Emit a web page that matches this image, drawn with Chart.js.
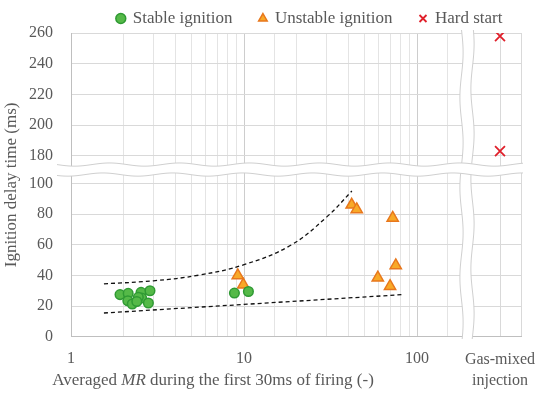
<!DOCTYPE html>
<html>
<head>
<meta charset="utf-8">
<script src="https://cdn.jsdelivr.net/npm/chart.js@4"></script>
<style>
html, body { margin: 0; padding: 0; background: #fff; }
#wrap { width: 550px; height: 396px; }
</style>
</head>
<body>
<div id="wrap"><canvas id="chart-area"></canvas></div>
<script>
// values
const stableMR    = [1.92, 2.14, 2.13, 2.26, 2.54, 2.56, 2.86, 2.80, 2.45, 2.40, 8.8, 10.6];
const stableDelay = [27.5, 28.3, 23.5, 21.4, 29.0, 25.3, 30.0, 22.0, 25.7, 23.0, 28.5, 29.5];
const unstableMR    = [9.2, 9.9, 41.9, 44.8, 72.3, 75.3, 59.3, 69.8];
const unstableDelay = [40, 34, 86, 83, 77.5, 46.5, 38.5, 33];
const hardDelay = [258, 183];
const gasLabels = ['', 'Gas-mixed injection', ''];
const upperMR    = [1.55, 3, 5.5, 10, 18.5, 30, 42];
const upperDelay = [34.5, 36.5, 40.2, 47, 59.5, 78, 95];
const lowerMR    = [1.55, 83];
const lowerDelay = [15.5, 27.5];
const xTickLabels = [1, 10, 100];

const textColor = '#595959';
Chart.defaults.font.family = '"Liberation Serif", serif';
Chart.defaults.font.size = 16;
Chart.defaults.color = textColor;

function pts(xs, ys) {
    return xs.map((x, i) => ({x: x, y: ys[i]}));
}

function wavePts(horiz, a, b, c, amp, period, phase) {
    const p = [];
    for (let t = a; t <= b; t += 1) {
        const d = c + amp * Math.sin((t - a) / period * 2 * Math.PI + phase);
        p.push(horiz ? [t, d] : [d, t]);
    }
    return p;
}

function drawBand(ctx, horiz, a, b, c, half) {
    const w1 = wavePts(horiz, a, b, c - half, 1.6, horiz ? 70 : 90, 0);
    const w2 = wavePts(horiz, a, b, c + half, 1.6, horiz ? 70 : 90, 0.6);
    ctx.beginPath();
    w1.forEach((q, i) => i ? ctx.lineTo(q[0], q[1]) : ctx.moveTo(q[0], q[1]));
    w2.slice().reverse().forEach(q => ctx.lineTo(q[0], q[1]));
    ctx.closePath();
    ctx.fillStyle = '#ffffff';
    ctx.fill();
    ctx.strokeStyle = '#cfcfcf';
    ctx.lineWidth = 1;
    [w1, w2].forEach(w => {
        ctx.beginPath();
        w.forEach((q, i) => i ? ctx.lineTo(q[0], q[1]) : ctx.moveTo(q[0], q[1]));
        ctx.stroke();
    });
}

const breakMarks = {
    id: 'breakMarks',
    afterDraw(chart) {
        const ctx = chart.ctx;
        const area = chart.chartArea;
        const hy = chart.scales.y.top;
        const vx = chart.scales.x.right - 12;
        ctx.save();
        drawBand(ctx, false, area.top - 3, area.bottom + 3, vx, 5.5);
        drawBand(ctx, true, area.left - 14, area.right + 2, hy, 5);

        // axis titles
        ctx.fillStyle = textColor;
        ctx.textBaseline = 'middle';
        const parts = [['Averaged ', ''], ['MR', 'italic '], [' during the first 30ms of firing (-)', '']];
        let total = 0;
        parts.forEach(p => { ctx.font = p[1] + '17px "Liberation Serif"'; total += ctx.measureText(p[0]).width; });
        let px = 213 - total / 2;
        ctx.textAlign = 'left';
        parts.forEach(p => {
            ctx.font = p[1] + '17px "Liberation Serif"';
            ctx.fillText(p[0], px, 381);
            px += ctx.measureText(p[0]).width;
        });
        ctx.translate(12, (area.top + area.bottom) / 2);
        ctx.rotate(-Math.PI / 2);
        ctx.textAlign = 'center';
        ctx.font = '17px "Liberation Serif"';
        ctx.fillText('Ignition delay time (ms)', 0, 0);
        ctx.restore();
    }
};

const grid = '#d9d9d9';
const axisLine = '#bfbfbf';

ctx = document.getElementById('chart-area').getContext('2d');
new Chart(ctx, {
    type: 'scatter',
    data: {
        datasets: [{
            label: 'Stable ignition',
            data: pts(stableMR, stableDelay),
            pointStyle: 'circle',
            radius: 4.8,
            backgroundColor: '#55b948',
            borderColor: '#2f9a33',
            borderWidth: 1.5,
            xAxisID: 'x', yAxisID: 'y'
        }, {
            label: 'Unstable ignition',
            data: pts(unstableMR, unstableDelay),
            pointStyle: 'triangle',
            radius: 6.5,
            backgroundColor: '#f8a927',
            borderColor: '#e8771c',
            borderWidth: 1.5,
            xAxisID: 'x', yAxisID: 'y'
        }, {
            label: 'Hard start',
            data: hardDelay.map(v => ({x: gasLabels[1], y: v})),
            pointStyle: 'crossRot',
            radius: 7,
            borderColor: '#e0202b',
            backgroundColor: '#e0202b',
            borderWidth: 1.8,
            xAxisID: 'x2', yAxisID: 'y2'
        }, {
            label: 'upper',
            data: pts(upperMR, upperDelay),
            showLine: true,
            borderColor: '#111',
            borderWidth: 1.3,
            borderDash: [4, 3],
            tension: 0.4,
            radius: 0,
            xAxisID: 'x', yAxisID: 'y'
        }, {
            label: 'lower',
            data: pts(lowerMR, lowerDelay),
            showLine: true,
            borderColor: '#111',
            borderWidth: 1.3,
            borderDash: [4, 3],
            radius: 0,
            xAxisID: 'x', yAxisID: 'y'
        }]
    },
    options: {
        responsive: true,
        maintainAspectRatio: false,
        animation: false,
        layout: { padding: { left: 11, right: 29, top: 0, bottom: 4 } },
        plugins: {
            tooltip: { enabled: false },
            legend: {
                position: 'top',
                align: 'end',
                fullSize: false,
                maxHeight: 33,
                labels: {
                    usePointStyle: true,
                    boxWidth: 7,
                    boxHeight: 7,
                    padding: 10,
                    color: textColor,
                    font: { size: 17 },
                    generateLabels: (chart) => {
                        const items = Chart.defaults.plugins.legend.labels.generateLabels(chart)
                            .filter(i => i.datasetIndex < 3);
                        items.forEach(i => { i.text += (i.datasetIndex < 2) ? '    ' : '  '; });
                        return items;
                    }
                }
            }
        },
        scales: {
            x: {
                type: 'logarithmic',
                position: 'bottom',
                stack: 'xs',
                stackWeight: 408,
                min: 1,
                max: 228,
                afterBuildTicks: (axis) => { axis.ticks = axis.ticks.filter(t => t.value <= 200); },
                grid: {
                    drawTicks: false,
                    color: (c) => (c.tick && xTickLabels.includes(c.tick.value)) ? '#cdcdcd' : '#e4e4e4'
                },
                border: { color: axisLine },
                ticks: {
                    autoSkip: false,
                    maxRotation: 0,
                    padding: 12,
                    callback: (v) => xTickLabels.includes(v) ? String(v) : ''
                }
            },
            x2: {
                type: 'category',
                labels: gasLabels,
                position: 'bottom',
                stack: 'xs',
                stackWeight: 42,
                offset: false,
                grid: {
                    drawTicks: false,
                    color: (c) => c.index === 0 ? 'rgba(0,0,0,0)' : grid
                },
                border: { color: axisLine },
                ticks: {
                    autoSkip: false,
                    maxRotation: 0,
                    padding: 12,
                    font: { lineHeight: 1.35 },
                    callback: function(v) { return this.getLabelForValue(v).split(' '); }
                }
            },
            y: {
                position: 'left',
                stack: 'ys',
                stackWeight: 109,
                min: 0,
                max: 109,
                grid: { drawTicks: false, color: grid },
                border: { color: axisLine },
                ticks: { stepSize: 20, includeBounds: false, autoSkip: false, padding: 18 }
            },
            y2: {
                position: 'left',
                stack: 'ys',
                stackWeight: 89,
                min: 171,
                max: 260,
                grid: { drawTicks: false, color: grid },
                border: { color: axisLine },
                ticks: { stepSize: 20, includeBounds: false, autoSkip: false, padding: 18 }
            }
        }
    },
    plugins: [breakMarks]
});
</script>
</body>
</html>
